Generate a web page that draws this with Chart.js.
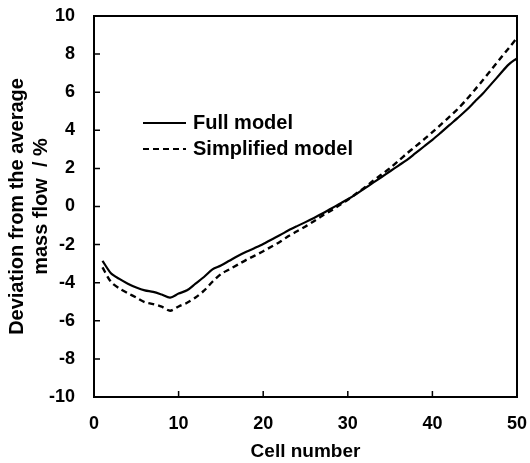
<!DOCTYPE html>
<html>
<head>
<meta charset="utf-8">
<script src="https://cdn.jsdelivr.net/npm/chart.js@4.4.1/dist/chart.umd.min.js"></script>
<style>
html,body{margin:0;padding:0;background:#fff;}
</style>
</head>
<body>
<canvas id="chartFlow" width="530" height="463"></canvas>
<script>
const cells=[1,2,3,4,5,6,7,8,9,10,11,12,13,14,15,16,17,18,19,20,21,22,23,24,25,26,27,28,29,30,31,32,33,34,35,36,37,38,39,40,41,42,43,44,45,46,47,48,49,50];
const fullModel=[-2.85,-3.5,-3.8,-4.05,-4.25,-4.4,-4.48,-4.62,-4.78,-4.57,-4.4,-4.05,-3.7,-3.3,-3.1,-2.85,-2.6,-2.38,-2.18,-1.97,-1.73,-1.5,-1.25,-1.03,-0.82,-0.6,-0.37,-0.12,0.13,0.38,0.65,0.95,1.25,1.55,1.85,2.15,2.45,2.8,3.15,3.5,3.88,4.27,4.65,5.05,5.5,5.95,6.45,6.95,7.45,7.78];
const simplifiedModel=[-3.2,-3.95,-4.3,-4.55,-4.78,-5.02,-5.12,-5.26,-5.47,-5.25,-5.05,-4.78,-4.42,-3.95,-3.55,-3.3,-3.05,-2.8,-2.58,-2.35,-2.1,-1.85,-1.55,-1.3,-1.05,-0.77,-0.48,-0.22,0.07,0.35,0.68,1.0,1.35,1.68,2.02,2.4,2.79,3.15,3.52,3.9,4.3,4.7,5.12,5.6,6.12,6.65,7.2,7.75,8.3,8.85];
const xTicks=[0,10,20,30,40,50];
const yTicks=[-10,-8,-6,-4,-2,0,2,4,6,8,10];

const font='"Liberation Sans", Arial, sans-serif';

// box round the plot, inner tick marks and the legend inside the plot
const frame={
  id:'frame',
  afterDatasetsDraw(chart){
    const {ctx,chartArea:a,scales}=chart;
    ctx.save();
    ctx.strokeStyle='#000';
    ctx.lineWidth=2;
    ctx.strokeRect(a.left,a.top,a.right-a.left,a.bottom-a.top);
    ctx.lineWidth=1.5;
    ctx.beginPath();
    yTicks.forEach(v=>{const y=scales.y.getPixelForValue(v);ctx.moveTo(a.left,y);ctx.lineTo(a.left+6,y);});
    xTicks.forEach(v=>{const x=scales.x.getPixelForValue(v);ctx.moveTo(x,a.bottom);ctx.lineTo(x,a.bottom-6);});
    ctx.stroke();

    const lx=a.left+49, ly=a.top+107;
    chart.data.datasets.forEach((ds,i)=>{
      const y=ly+i*26;
      ctx.beginPath();
      ctx.lineWidth=2;
      ctx.setLineDash(ds.borderDash||[]);
      ctx.moveTo(lx,y);ctx.lineTo(lx+43,y);
      ctx.stroke();
      ctx.setLineDash([]);
      ctx.fillStyle='#000';
      ctx.font='bold 20px '+font;
      ctx.textBaseline='middle';
      ctx.fillText(ds.label,lx+50,y);
    });
    ctx.restore();
  }
};

const ctx=document.getElementById('chartFlow').getContext('2d');
new Chart(ctx,{
  type:'line',
  data:{
    datasets:[
      {label:'Full model',data:cells.map((c,i)=>({x:c,y:fullModel[i]})),borderColor:'#000',borderWidth:2.2,pointRadius:0,tension:.3},
      {label:'Simplified model',data:cells.map((c,i)=>({x:c,y:simplifiedModel[i]})),borderColor:'#000',borderWidth:2.4,borderDash:[6,4],pointRadius:0,tension:.3}
    ]
  },
  plugins:[frame],
  options:{
    responsive:false,
    animation:false,
    layout:{padding:{top:16,right:13,left:0,bottom:0}},
    plugins:{legend:{display:false},tooltip:{enabled:false}},
    scales:{
      x:{
        type:'linear',min:0,max:50,
        afterBuildTicks(s){s.ticks=xTicks.map(v=>({value:v}));},
        afterFit(s){s.height=66;s.paddingLeft=0;s.paddingRight=0;},
        grid:{display:false,drawTicks:false},
        border:{display:false},
        ticks:{color:'#000',padding:16,maxRotation:0,font:{family:font,size:18,weight:'bold'}},
        title:{display:true,text:'Cell number',color:'#000',padding:{top:0,bottom:0},font:{family:font,size:19,weight:'bold'}}
      },
      y:{
        min:-10,max:10,
        afterBuildTicks(s){s.ticks=yTicks.map(v=>({value:v}));},
        afterFit(s){s.width=94;s.paddingTop=0;s.paddingBottom=0;},
        grid:{display:false,drawTicks:false},
        border:{display:false},
        ticks:{color:'#000',padding:19,font:{family:font,size:18,weight:'bold'}},
        title:{display:true,text:['Deviation from the average','mass flow  / %'],color:'#000',padding:{top:5,bottom:0},font:{family:font,size:20,weight:'bold',lineHeight:1.2}}
      }
    }
  }
});
</script>
</body>
</html>
